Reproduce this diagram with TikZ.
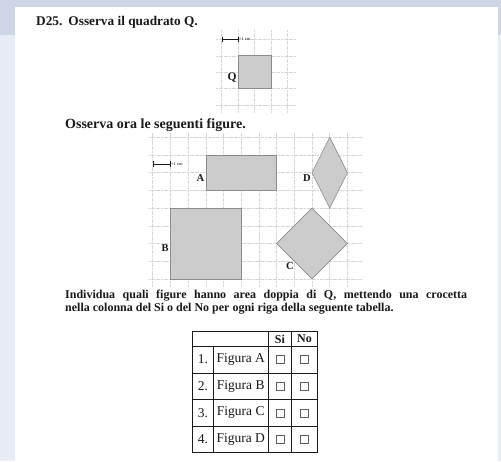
\documentclass[tikz,border=0pt]{standalone}
\usepackage{fontspec}
\setmainfont{Liberation Serif}
\usetikzlibrary{positioning}
\definecolor{bgdark}{RGB}{206,214,229}
\definecolor{bglight}{RGB}{231,236,245}
\definecolor{ink}{RGB}{25,25,25}
\definecolor{gridline}{RGB}{214,214,214}
\definecolor{shapefill}{RGB}{204,204,204}
\definecolor{shapeedge}{RGB}{140,140,140}

\begin{document}
\begin{tikzpicture}[x=1pt, y=-1pt,
     node distance = 1pt and 1pt,
       txt/.style = {font=\fontsize{13.3}{13}\selectfont\bfseries, text=ink, inner sep=0pt},
       lbl/.style = {font=\fontsize{10.5}{10}\selectfont\bfseries, text=ink, inner sep=1pt},
      unit/.style = {font=\fontsize{4.5}{5}\selectfont, text=ink, inner sep=0.5pt},
    gridln/.style = {draw=gridline, line width=0.5pt, dash pattern=on 2pt off 0.6pt},
       fig/.style = {fill=shapefill, draw=shapeedge, line width=0.6pt},
      cell/.style = {font=\fontsize{13.5}{13.5}\selectfont, text=ink, inner sep=0pt},
      head/.style = {font=\fontsize{12}{12}\selectfont\bfseries, text=ink, inner sep=0pt},
       chk/.style = {draw=ink!70, line width=0.5pt, minimum size=8pt, inner sep=0pt},
       tab/.style = {draw=ink, line width=0.9pt}
                        ]
\useasboundingbox (0,0) rectangle (501,461);
% page background
\fill[bgdark] (0,0) rectangle (501,461);
\fill[bglight] (0,35) rectangle (501,461);
\fill[white] (15,7) rectangle (498,461);

\node (d25)[txt, anchor=base west] at (36,25) {\makebox[32.3pt][l]{D25.}Osserva il quadrato Q.};

% grid with square Q
\begin{scope}[shift={(221.7,39.3)}, x=16.45pt, y=-16.45pt]
\foreach \k in {0,...,4} \draw[gridln] (\k,-0.55) -- (\k,4.45);
\foreach \j in {0,...,4} \draw[gridln] (-0.35,\j) -- (4.5,\j);
\draw[fig] (1,1) rectangle (3,3);
\coordinate (qside) at (1,2.35);
\node (labQ)[lbl, font=\fontsize{11.5}{11}\selectfont\bfseries, left=0.5pt of qside] {Q};
\draw[ink, line width=0.4pt, |-|] (0,0) -- (1,0) coordinate (bar1);
\node (unit1)[unit, right=0pt of bar1] {=1 cm};
\end{scope}

\node (see)[txt, font=\fontsize{14}{14}\selectfont\bfseries, anchor=base west] at (65,128) {Osserva ora le seguenti figure.};

% grid with figures A, B, C, D
\begin{scope}[shift={(152.7,155)}, x=17.7pt, y=-17.7pt]
\foreach \k in {0,...,11} \draw[gridln] (\k,-1.25) -- (\k,7.45);
\foreach \j in {-1,...,7} \draw[gridln] (-0.27,\j) -- (11.85,\j);
\draw[fig] (3,0) rectangle (7,2);
\draw[fig] (1,3) rectangle (5,7);
\draw[fig] (9,3) -- (11,5) -- (9,7) -- (7,5) -- cycle;
\draw[fig] (10,-1) -- (11,1) -- (10,3) -- (9,1) -- cycle;
\coordinate (aside) at (3,1.3);
\coordinate (bside) at (1,5.25);
\coordinate (dside) at (9,1.3);
\node (labA)[lbl, left=0.5pt of aside] {A};
\node (labB)[lbl, left=0.5pt of bside] {B};
\node (labC)[lbl] at (7.75,6.3) {C};
\node (labD)[lbl, left=0pt of dside] {D};
\draw[ink, line width=0.4pt, |-|] (0,0.5) -- (1,0.5) coordinate (bar2);
\node (unit2)[unit, right=0pt of bar2] {=1 cm};
\end{scope}

\node (ask1)[txt, font=\fontsize{12}{12}\selectfont\bfseries, anchor=base west] at (65,298.5) {\makebox[402pt][s]{Individua quali figure hanno area doppia di Q, mettendo una crocetta}};
\node (ask2)[txt, font=\fontsize{12}{12}\selectfont\bfseries, anchor=base west] at (65,311.5) {nella colonna del Si o del No per ogni riga della seguente tabella.};

% table
\draw[tab] (192.7,331.7) rectangle (317.3,452.7);
\foreach \y in {346,373,399.5,426} \draw[tab] (192.7,\y) -- (317.3,\y);
\draw[tab] (213.3,346) -- (213.3,452.7);
\foreach \x in {268.3,291.7} \draw[tab] (\x,331.7) -- (\x,452.7);
\node (si)[head] at (280,339) {Si};
\node (no)[head] at (304.5,339) {No};
\foreach \f/\yc [count=\i] in {A/359.5, B/386.25, C/412.75, D/439.35} {
  \node (num\f)[cell] at (203,\yc) {\i.};
  \node (fig\f)[cell] at (240.8,\yc) {Figura \f};
  \node (si\f)[chk] at (280,\yc) {};
  \node (no\f)[chk] at (304.5,\yc) {};
}
\end{tikzpicture}
\end{document}
